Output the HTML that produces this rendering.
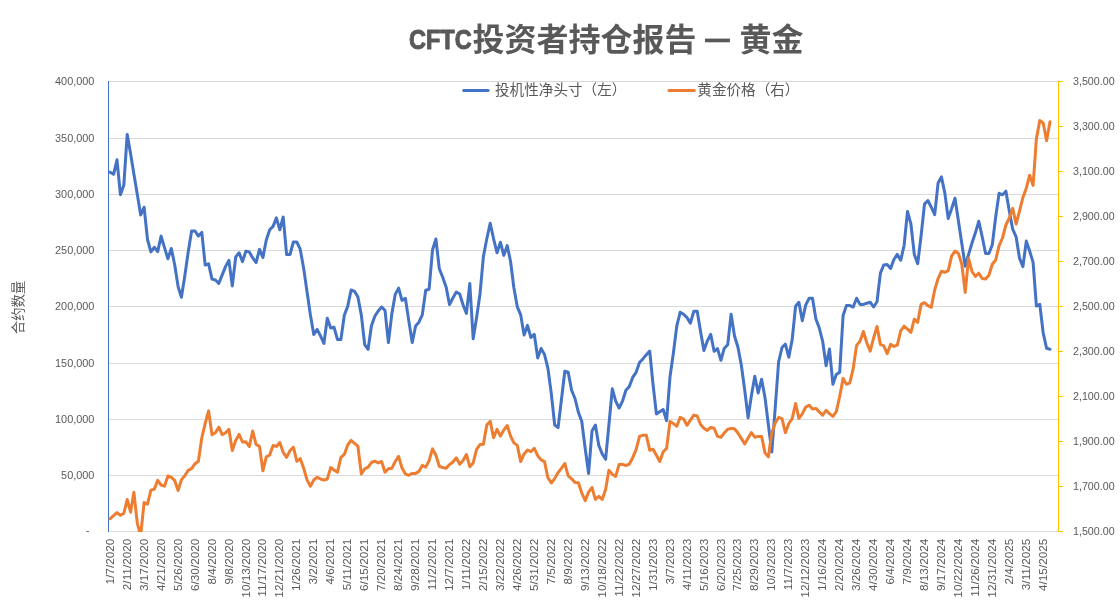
<!DOCTYPE html>
<html lang="zh"><head><meta charset="utf-8"><title>CFTC投资者持仓报告 — 黄金</title>
<style>
html,body{margin:0;padding:0;background:#fff;}
body{width:1120px;height:606px;overflow:hidden;}
svg{display:block;will-change:transform;}
text{font-family:"Liberation Sans","Noto Sans CJK SC",sans-serif;fill:#595959;}
.ax{font-size:10.9px;}
.dt{font-size:11.8px;}
</style></head><body>
<svg width="1120" height="606" viewBox="0 0 1120 606">
<rect width="1120" height="606" fill="#fff"/>

<g stroke="#d9d9d9" stroke-width="1" shape-rendering="crispEdges">
<line x1="109" x2="1058" y1="81.5" y2="81.5"/>
<line x1="109" x2="1058" y1="138.5" y2="138.5"/>
<line x1="109" x2="1058" y1="194.5" y2="194.5"/>
<line x1="109" x2="1058" y1="250.5" y2="250.5"/>
<line x1="109" x2="1058" y1="306.5" y2="306.5"/>
<line x1="109" x2="1058" y1="363.5" y2="363.5"/>
<line x1="109" x2="1058" y1="419.5" y2="419.5"/>
<line x1="109" x2="1058" y1="475.5" y2="475.5"/>
<line x1="109" x2="1058" y1="531.5" y2="531.5"/>
</g>
<line x1="108.5" x2="108.5" y1="81" y2="532" stroke="#4472c4" stroke-width="1"/>
<g stroke="#ffc000" stroke-width="1">
<line x1="1058.5" x2="1058.5" y1="81" y2="532"/>
<line x1="1058" x2="1063" y1="81.5" y2="81.5"/>
<line x1="1058" x2="1063" y1="126.5" y2="126.5"/>
<line x1="1058" x2="1063" y1="171.5" y2="171.5"/>
<line x1="1058" x2="1063" y1="216.5" y2="216.5"/>
<line x1="1058" x2="1063" y1="261.5" y2="261.5"/>
<line x1="1058" x2="1063" y1="306.5" y2="306.5"/>
<line x1="1058" x2="1063" y1="351.5" y2="351.5"/>
<line x1="1058" x2="1063" y1="396.5" y2="396.5"/>
<line x1="1058" x2="1063" y1="441.5" y2="441.5"/>
<line x1="1058" x2="1063" y1="486.5" y2="486.5"/>
<line x1="1058" x2="1063" y1="531.5" y2="531.5"/>
</g>
<clipPath id="plot"><rect x="108" y="80" width="951" height="452"/></clipPath>
<g clip-path="url(#plot)">
<polyline fill="none" stroke="#4472c4" stroke-width="3" stroke-linejoin="round" stroke-linecap="round" points="110.2,172.2 113.6,174.3 117.0,159.8 120.4,194.7 123.8,185.3 127.2,134.4 130.6,153.8 133.9,174.1 137.3,194.4 140.7,215.0 144.1,207.2 147.5,239.5 150.9,251.9 154.3,247.3 157.7,251.6 161.1,236.1 164.5,247.7 167.9,258.7 171.3,248.5 174.7,264.7 178.1,286.6 181.4,297.3 184.8,276.0 188.2,252.0 191.6,231.0 195.0,231.0 198.4,236.1 201.8,232.4 205.2,265.0 208.6,263.8 212.0,279.1 215.4,280.0 218.8,283.4 222.2,274.9 225.6,266.4 228.9,260.4 232.3,285.9 235.7,257.0 239.1,252.8 242.5,261.6 245.9,251.1 249.3,251.9 252.7,257.9 256.1,262.5 259.5,249.4 262.9,257.5 266.3,240.0 269.7,229.8 273.1,226.4 276.4,217.9 279.8,229.8 283.2,217.0 286.6,254.5 290.0,254.5 293.4,242.0 296.8,242.0 300.2,249.2 303.6,267.9 307.0,291.5 310.4,314.9 313.8,334.5 317.2,329.4 320.6,336.2 323.9,343.5 327.3,318.3 330.7,328.0 334.1,327.3 337.5,339.6 340.9,339.6 344.3,315.3 347.7,306.4 351.1,290.0 354.5,291.3 357.9,297.0 361.3,314.9 364.7,344.7 368.1,349.3 371.4,326.0 374.8,316.3 378.2,311.0 381.6,307.0 385.0,310.4 388.4,342.6 391.8,314.1 395.2,294.4 398.6,288.1 402.0,300.4 405.4,298.3 408.8,320.9 412.2,342.6 415.6,326.0 418.9,322.2 422.3,314.9 425.7,290.3 429.1,289.2 432.5,250.0 435.9,239.0 439.3,268.7 442.7,277.2 446.1,286.9 449.5,304.5 452.9,298.0 456.3,292.0 459.7,294.0 463.1,305.0 466.4,313.4 469.8,283.6 473.2,338.8 476.6,317.5 480.0,294.0 483.4,256.6 486.8,238.8 490.2,223.2 493.6,238.8 497.0,252.7 500.4,242.2 503.8,255.4 507.2,245.6 510.6,261.7 513.9,288.0 517.3,306.8 520.7,314.9 524.1,334.9 527.5,325.3 530.9,337.5 534.3,334.4 537.7,357.9 541.1,348.5 544.5,354.5 547.9,368.1 551.3,393.6 554.7,425.0 558.1,427.6 561.4,400.0 564.8,371.3 568.2,372.3 571.6,390.3 575.0,398.5 578.4,412.3 581.8,421.6 585.2,448.5 588.6,473.5 592.0,431.0 595.4,425.0 598.8,445.4 602.2,453.9 605.6,459.3 608.9,425.0 612.3,388.8 615.7,401.2 619.1,408.0 622.5,401.2 625.9,390.2 629.3,386.6 632.7,377.4 636.1,372.3 639.5,362.6 642.9,358.9 646.3,354.7 649.7,351.0 653.1,385.0 656.4,413.9 659.8,411.7 663.2,409.5 666.6,420.7 670.0,376.8 673.4,353.0 676.8,325.8 680.2,312.2 683.6,314.2 687.0,317.6 690.4,323.2 693.8,311.3 697.2,311.3 700.6,331.7 703.9,350.4 707.3,341.1 710.7,334.3 714.1,351.3 717.5,348.7 720.9,360.3 724.3,348.2 727.7,344.8 731.1,314.2 734.5,336.0 737.9,347.0 741.3,365.0 744.7,390.0 748.1,417.7 751.4,395.6 754.8,376.2 758.2,393.0 761.6,379.2 765.0,397.5 768.4,425.0 771.8,452.0 775.2,408.0 778.6,362.0 782.0,347.5 785.4,344.2 788.8,357.2 792.2,339.4 795.6,306.2 798.9,302.3 802.3,320.7 805.7,305.1 809.1,298.3 812.5,298.3 815.9,319.0 819.3,328.0 822.7,341.5 826.1,365.7 829.5,349.0 832.9,384.3 836.3,374.5 839.7,372.2 843.1,315.5 846.4,305.6 849.8,305.6 853.2,307.0 856.6,298.2 860.0,304.4 863.4,304.4 866.8,303.3 870.2,302.2 873.6,307.0 877.0,301.8 880.4,273.1 883.8,264.9 887.2,264.6 890.6,268.5 893.9,259.5 897.3,254.4 900.7,260.3 904.1,245.5 907.5,211.4 910.9,223.8 914.3,254.4 917.7,263.7 921.1,235.7 924.5,204.1 927.9,200.5 931.3,207.2 934.7,214.7 938.1,182.9 941.4,176.9 944.8,192.9 948.2,218.5 951.6,208.8 955.0,198.3 958.4,220.7 961.8,243.5 965.2,266.3 968.6,254.4 972.0,243.0 975.4,232.8 978.8,221.2 982.2,236.7 985.6,253.5 988.9,253.5 992.3,244.7 995.7,216.8 999.1,193.3 1002.5,194.8 1005.9,191.2 1009.3,211.0 1012.7,229.2 1016.1,236.8 1019.5,258.1 1022.9,266.6 1026.3,241.1 1029.7,251.3 1033.1,262.4 1036.4,306.1 1039.8,304.4 1043.2,333.0 1046.6,348.3 1050.0,349.3"/>
<polyline fill="none" stroke="#ed7d31" stroke-width="3" stroke-linejoin="round" stroke-linecap="round" points="110.2,518.7 113.6,515.6 117.0,512.6 120.4,515.3 123.8,513.4 127.2,499.5 130.6,512.2 133.9,492.3 137.3,523.3 140.7,535.5 144.1,502.5 147.5,504.2 150.9,490.1 154.3,489.3 157.7,480.4 161.1,485.0 164.5,486.2 167.9,476.0 171.3,477.4 174.7,480.4 178.1,490.5 181.4,479.9 184.8,475.8 188.2,470.3 191.6,468.6 195.0,463.7 198.4,461.2 201.8,437.8 205.2,423.3 208.6,410.9 212.0,434.7 215.4,432.7 218.8,427.2 222.2,434.7 225.6,432.7 228.9,429.3 232.3,450.5 235.7,440.5 239.1,434.4 242.5,442.0 245.9,441.8 249.3,446.6 252.7,431.0 256.1,444.5 259.5,446.4 262.9,470.8 266.3,456.9 269.7,455.0 273.1,445.5 276.4,446.4 279.8,442.5 283.2,452.4 286.6,457.3 290.0,450.6 293.4,447.2 296.8,461.2 300.2,458.6 303.6,468.0 307.0,479.9 310.4,486.3 313.8,479.9 317.2,477.3 320.6,479.0 323.9,480.2 327.3,479.0 330.7,467.6 334.1,470.0 337.5,472.2 340.9,457.4 344.3,454.4 347.7,445.0 351.1,440.4 354.5,443.3 357.9,446.2 361.3,473.9 364.7,468.8 368.1,467.1 371.4,462.5 374.8,461.2 378.2,462.9 381.6,461.5 385.0,472.2 388.4,468.8 391.8,468.3 395.2,461.5 398.6,456.4 402.0,468.0 405.4,473.9 408.8,475.3 412.2,473.4 415.6,473.4 418.9,471.4 422.3,465.4 425.7,467.1 429.1,460.8 432.5,448.9 435.9,455.2 439.3,466.3 442.7,467.5 446.1,468.3 449.5,464.6 452.9,462.0 456.3,457.8 459.7,464.2 463.1,460.5 466.4,454.5 469.8,466.7 473.2,462.9 476.6,449.3 480.0,444.6 483.4,444.2 486.8,425.0 490.2,421.3 493.6,437.8 497.0,429.3 500.4,436.1 503.8,430.1 507.2,425.5 510.6,436.1 513.9,442.9 517.3,445.4 520.7,461.6 524.1,453.9 527.5,450.0 530.9,451.7 534.3,448.3 537.7,455.6 541.1,459.9 544.5,461.6 547.9,477.7 551.3,483.0 554.7,478.6 558.1,472.6 561.4,468.3 564.8,463.5 568.2,475.8 571.6,478.8 575.0,482.6 578.4,482.8 581.8,493.0 585.2,500.6 588.6,492.1 592.0,487.5 595.4,499.4 598.8,496.4 602.2,499.4 605.6,489.6 608.9,470.3 612.3,474.3 615.7,476.4 619.1,464.5 622.5,464.3 625.9,465.5 629.3,464.2 632.7,457.7 636.1,449.6 639.5,436.4 642.9,435.2 646.3,435.2 649.7,450.2 653.1,449.3 656.4,455.2 659.8,461.5 663.2,451.8 666.6,448.4 670.0,421.4 673.4,423.6 676.8,426.2 680.2,417.3 683.6,419.0 687.0,425.3 690.4,420.2 693.8,415.1 697.2,416.0 700.6,424.5 703.9,428.2 707.3,430.4 710.7,427.5 714.1,428.2 717.5,436.4 720.9,437.2 724.3,433.0 727.7,429.2 731.1,428.4 734.5,428.7 737.9,433.0 741.3,438.4 744.7,444.0 748.1,438.1 751.4,432.6 754.8,437.2 758.2,436.4 761.6,436.4 765.0,453.0 768.4,456.8 771.8,433.0 775.2,423.1 778.6,417.4 782.0,418.6 785.4,432.7 788.8,423.5 792.2,418.7 795.6,403.5 798.9,418.4 802.3,413.8 805.7,407.1 809.1,405.2 812.5,409.1 815.9,408.4 819.3,411.9 822.7,415.2 826.1,410.3 829.5,413.6 832.9,416.3 836.3,411.6 839.7,396.5 843.1,378.4 846.4,384.3 849.8,382.8 853.2,368.6 856.6,345.4 860.0,341.3 863.4,331.5 866.8,342.7 870.2,351.2 873.6,338.0 877.0,326.5 880.4,344.4 883.8,345.9 887.2,353.6 890.6,344.4 893.9,346.4 897.3,345.2 900.7,330.8 904.1,326.2 907.5,329.1 910.9,332.3 914.3,319.2 917.7,322.3 921.1,304.4 924.5,302.7 927.9,305.6 931.3,307.3 934.7,290.0 938.1,278.5 941.4,271.3 944.8,272.3 948.2,270.6 951.6,256.2 955.0,251.1 958.4,253.4 961.8,264.3 965.2,292.4 968.6,258.3 972.0,271.5 975.4,276.4 978.8,273.2 982.2,278.5 985.6,279.1 988.9,275.3 992.3,264.3 995.7,260.0 999.1,245.6 1002.5,238.0 1005.9,225.0 1009.3,218.0 1012.7,208.4 1016.1,224.0 1019.5,211.0 1022.9,197.5 1026.3,188.2 1029.7,175.2 1033.1,185.4 1036.4,138.7 1039.8,120.6 1043.2,123.0 1046.6,140.7 1050.0,121.7"/>
</g>
<g class="ax" text-anchor="end">
<text x="94.4" y="85.40">400,000</text>
<text x="94.4" y="141.65">350,000</text>
<text x="94.4" y="197.90">300,000</text>
<text x="94.4" y="254.15">250,000</text>
<text x="94.4" y="310.40">200,000</text>
<text x="94.4" y="366.65">150,000</text>
<text x="94.4" y="422.90">100,000</text>
<text x="94.4" y="479.15">50,000</text>
<text x="89.3" y="534.40">-</text>
</g>
<g class="ax" text-anchor="start" style="font-size:10.7px">
<text x="1073" y="85.40">3,500.00</text>
<text x="1073" y="130.40">3,300.00</text>
<text x="1073" y="175.40">3,100.00</text>
<text x="1073" y="220.40">2,900.00</text>
<text x="1073" y="265.40">2,700.00</text>
<text x="1073" y="310.40">2,500.00</text>
<text x="1073" y="355.40">2,300.00</text>
<text x="1073" y="400.40">2,100.00</text>
<text x="1073" y="445.40">1,900.00</text>
<text x="1073" y="490.40">1,700.00</text>
<text x="1073" y="535.40">1,500.00</text>
</g>
<g class="dt" text-anchor="end">
<text transform="translate(113.80 538.60) rotate(-90)">1/7/2020</text>
<text transform="translate(130.76 538.60) rotate(-90)">2/11/2020</text>
<text transform="translate(147.72 538.60) rotate(-90)">3/17/2020</text>
<text transform="translate(164.69 538.60) rotate(-90)">4/21/2020</text>
<text transform="translate(181.65 538.60) rotate(-90)">5/26/2020</text>
<text transform="translate(198.62 538.60) rotate(-90)">6/30/2020</text>
<text transform="translate(215.58 538.60) rotate(-90)">8/4/2020</text>
<text transform="translate(232.55 538.60) rotate(-90)">9/8/2020</text>
<text transform="translate(249.51 538.60) rotate(-90)">10/13/2020</text>
<text transform="translate(266.48 538.60) rotate(-90)">11/17/2020</text>
<text transform="translate(283.44 538.60) rotate(-90)">12/21/2020</text>
<text transform="translate(300.40 538.60) rotate(-90)">1/26/2021</text>
<text transform="translate(317.37 538.60) rotate(-90)">3/2/2021</text>
<text transform="translate(334.33 538.60) rotate(-90)">4/6/2021</text>
<text transform="translate(351.30 538.60) rotate(-90)">5/11/2021</text>
<text transform="translate(368.26 538.60) rotate(-90)">6/15/2021</text>
<text transform="translate(385.23 538.60) rotate(-90)">7/20/2021</text>
<text transform="translate(402.19 538.60) rotate(-90)">8/24/2021</text>
<text transform="translate(419.15 538.60) rotate(-90)">9/28/2021</text>
<text transform="translate(436.12 538.60) rotate(-90)">11/2/2021</text>
<text transform="translate(453.08 538.60) rotate(-90)">12/7/2021</text>
<text transform="translate(470.05 538.60) rotate(-90)">1/11/2022</text>
<text transform="translate(487.01 538.60) rotate(-90)">2/15/2022</text>
<text transform="translate(503.98 538.60) rotate(-90)">3/22/2022</text>
<text transform="translate(520.94 538.60) rotate(-90)">4/26/2022</text>
<text transform="translate(537.90 538.60) rotate(-90)">5/31/2022</text>
<text transform="translate(554.87 538.60) rotate(-90)">7/5/2022</text>
<text transform="translate(571.83 538.60) rotate(-90)">8/9/2022</text>
<text transform="translate(588.80 538.60) rotate(-90)">9/13/2022</text>
<text transform="translate(605.76 538.60) rotate(-90)">10/18/2022</text>
<text transform="translate(622.73 538.60) rotate(-90)">11/22/2022</text>
<text transform="translate(639.69 538.60) rotate(-90)">12/27/2022</text>
<text transform="translate(656.65 538.60) rotate(-90)">1/31/2023</text>
<text transform="translate(673.62 538.60) rotate(-90)">3/7/2023</text>
<text transform="translate(690.58 538.60) rotate(-90)">4/11/2023</text>
<text transform="translate(707.55 538.60) rotate(-90)">5/16/2023</text>
<text transform="translate(724.51 538.60) rotate(-90)">6/20/2023</text>
<text transform="translate(741.48 538.60) rotate(-90)">7/25/2023</text>
<text transform="translate(758.44 538.60) rotate(-90)">8/29/2023</text>
<text transform="translate(775.40 538.60) rotate(-90)">10/3/2023</text>
<text transform="translate(792.37 538.60) rotate(-90)">11/7/2023</text>
<text transform="translate(809.33 538.60) rotate(-90)">12/12/2023</text>
<text transform="translate(826.30 538.60) rotate(-90)">1/16/2024</text>
<text transform="translate(843.26 538.60) rotate(-90)">2/20/2024</text>
<text transform="translate(860.23 538.60) rotate(-90)">3/26/2024</text>
<text transform="translate(877.19 538.60) rotate(-90)">4/30/2024</text>
<text transform="translate(894.15 538.60) rotate(-90)">6/4/2024</text>
<text transform="translate(911.12 538.60) rotate(-90)">7/9/2024</text>
<text transform="translate(928.08 538.60) rotate(-90)">8/13/2024</text>
<text transform="translate(945.05 538.60) rotate(-90)">9/17/2024</text>
<text transform="translate(962.01 538.60) rotate(-90)">10/22/2024</text>
<text transform="translate(978.98 538.60) rotate(-90)">11/26/2024</text>
<text transform="translate(995.94 538.60) rotate(-90)">12/31/2024</text>
<text transform="translate(1012.90 538.60) rotate(-90)">2/4/2025</text>
<text transform="translate(1029.87 538.60) rotate(-90)">3/11/2025</text>
<text transform="translate(1046.83 538.60) rotate(-90)">4/15/2025</text>
</g>
<text x="408.9" y="49.0" font-size="27.2" font-weight="bold" stroke="#595959" stroke-width="1.0" stroke-linejoin="round" textLength="62.8" lengthAdjust="spacingAndGlyphs">CFTC</text>
<text x="472.5" y="50.85" font-size="32" font-weight="bold" textLength="224" lengthAdjust="spacingAndGlyphs">投资者持仓报告</text>
<rect x="705" y="38.6" width="24.9" height="3.7" fill="#595959"/>
<text x="739.5" y="50.85" font-size="32" font-weight="bold" textLength="64" lengthAdjust="spacingAndGlyphs">黄金</text>
<line x1="463.7" x2="488.1" y1="90.4" y2="90.4" stroke="#4472c4" stroke-width="3" stroke-linecap="round"/>
<text x="495" y="94.6" font-size="14.6">投机性净头寸（左）</text>
<line x1="668.9" x2="694.3" y1="90.4" y2="90.4" stroke="#ed7d31" stroke-width="3" stroke-linecap="round"/>
<text x="697.3" y="94.6" font-size="14.6">黄金价格（右）</text>
<g transform="translate(23.0 334.0) rotate(-90)"><text x="0" y="0" font-size="13.3">合约数量</text></g>
</svg>
</body></html>
